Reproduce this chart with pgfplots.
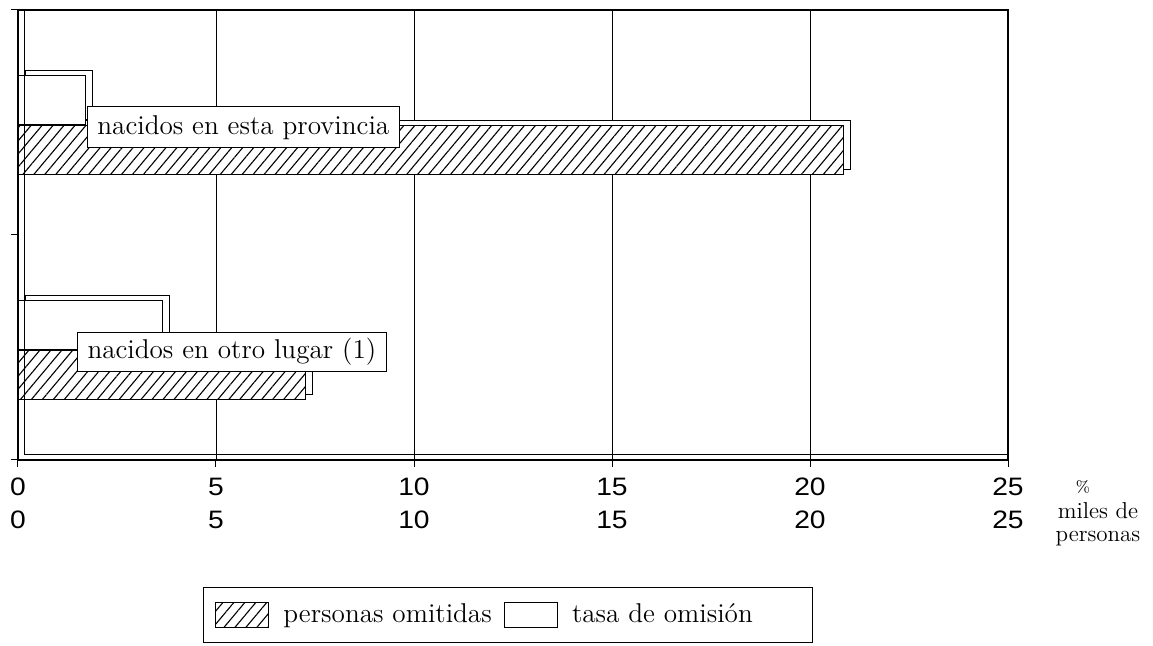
\documentclass[border=0pt]{standalone}
\usepackage{fontspec}
\usepackage{pgfplots}
\pgfplotsset{compat=1.18}
\usetikzlibrary{patterns.meta}
\newfontfamily\numfont[FakeStretch=1.12]{Liberation Sans}
\tikzset{hatch/.style={pattern={Lines[angle=50,distance=4.2pt,line width=0.55pt]}}}
\begin{document}
\begin{tikzpicture}
\path[use as bounding box] (-9pt,-93pt) rectangle (567.5pt,230pt);
\begin{axis}[
  at={(0,0)}, anchor=south west,
  scale only axis, width=495pt, height=225pt,
  xmin=0, xmax=25, ymin=0, ymax=2,
  axis line style={line width=0.6pt},
  xtick={0,5,10,15,20,25},
  xticklabels={{0\\0},{5\\5},{10\\10},{15\\15},{20\\20},{25\\25}},
  xticklabel style={align=center, font=\numfont\fontsize{12.6}{16.5}\selectfont, yshift=-2pt},
  ytick={0,1,2}, yticklabels={},
  tick align=outside, tick style={black, line width=0.5pt},
  major tick length=3.5pt,
  xtick pos=bottom, ytick pos=left,
  xmajorgrids, grid style={black, line width=0.45pt},
  legend columns=2,
  legend style={at={(0.495,0)}, anchor=center, yshift=-77.5pt,
    draw=black, line width=0.5pt, font=\fontsize{13.6}{16}\selectfont,
    inner xsep=6pt, inner ysep=6.5pt},
  legend cell align=left,
  /tikz/every even column/.append style={column sep=4pt},
  legend image code/.code={\draw[#1, line width=0.6pt] (0pt,-6.25pt) rectangle (26.5pt,6.25pt);},
  clip=false,
]
% back faces (depth)
\addplot[xbar, bar width=0.22, bar shift=0pt, hatch, draw=black, line width=0.6pt, fill=white, forget plot,
  transform canvas={xshift=3.5pt,yshift=2.5pt}] coordinates {(20.85,1.378) (7.25,0.378)};
\addplot[xbar, bar width=0.22, bar shift=0pt, fill=white, draw=black, line width=0.6pt, forget plot,
  transform canvas={xshift=3.5pt,yshift=2.5pt}] coordinates {(1.7,1.6) (3.65,0.6)};
% front faces
\addplot[xbar, bar width=0.22, bar shift=0pt, fill=white, postaction={hatch}, draw=black, line width=0.6pt]
  coordinates {(20.85,1.378) (7.25,0.378)};
\addlegendentry{\hspace*{5pt}personas omitidas}
\addplot[xbar, bar width=0.22, bar shift=0pt, fill=white, draw=black, line width=0.6pt]
  coordinates {(1.7,1.6) (3.65,0.6)};
\addlegendentry{\hspace*{5pt}tasa de omisión\hspace*{22pt}\mbox{}}
% back wall lines
\draw[line width=0.5pt] ([xshift=3.5pt,yshift=2.5pt]rel axis cs:0,0) -- ([xshift=3.5pt]rel axis cs:0,1);
\draw[line width=0.5pt] ([xshift=3.5pt,yshift=2.5pt]rel axis cs:0,0) -- ([yshift=2.5pt]rel axis cs:1,0);
% labels
\node[draw=black, fill=white, line width=0.5pt, anchor=west, inner xsep=5pt, inner ysep=3pt,
  font=\fontsize{13.6}{16}\selectfont, minimum height=20.5pt] at (axis cs:1.74,1.478) {nacidos en esta provincia};
\node[draw=black, fill=white, line width=0.5pt, anchor=west, inner xsep=5pt, inner ysep=3pt,
  font=\fontsize{13.6}{16}\selectfont, minimum height=19pt] at (axis cs:1.49,0.48) {nacidos en otro lugar (1)};
% units
\node[font=\fontsize{8}{9}\selectfont] at ([xshift=37.5pt,yshift=-13.5pt]rel axis cs:1,0) {\%};
\node[font=\fontsize{11.5}{11.5}\selectfont, align=center, anchor=north, inner sep=0pt] at ([xshift=45pt,yshift=-21pt]rel axis cs:1,0) {miles de\\personas};
\end{axis}
\end{tikzpicture}
\end{document}
